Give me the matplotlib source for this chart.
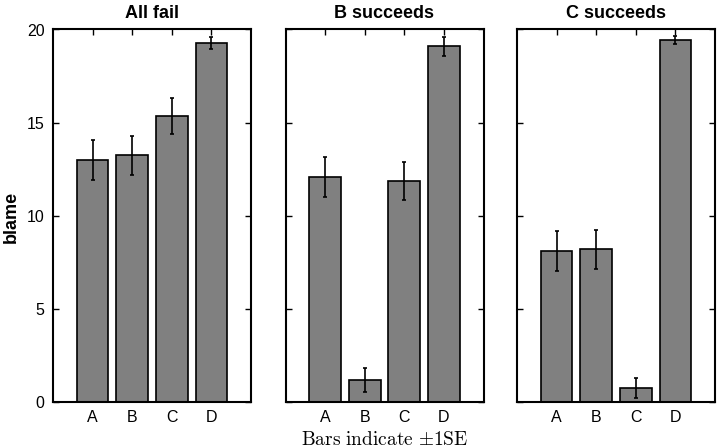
import matplotlib
matplotlib.use("Agg")
import matplotlib.pyplot as plt
import numpy as np

categories = ["A", "B", "C", "D"]
titles = ["All fail", "B succeeds", "C succeeds"]
means_all_fail = [13.0, 13.25, 15.35, 19.26]
se_all_fail = [1.08, 1.05, 0.95, 0.33]
means_b_succeeds = [12.1, 1.2, 11.88, 19.09]
se_b_succeeds = [1.07, 0.65, 1.03, 0.5]
means_c_succeeds = [8.13, 8.2, 0.77, 19.43]
se_c_succeeds = [1.07, 1.06, 0.53, 0.23]
yticks = [0, 5, 10, 15, 20]

plt.rcParams['font.family'] = ['Liberation Sans', 'DejaVu Sans']
plt.rcParams['mathtext.fontset'] = 'cm'

fig = plt.figure(figsize=(7.17, 4.48), dpi=100)
lefts = [53 / 717, 285.5 / 717, 517 / 717]
w = 198 / 717
b = 46 / 448
h = 372.5 / 448

means = [means_all_fail, means_b_succeeds, means_c_succeeds]
ses = [se_all_fail, se_b_succeeds, se_c_succeeds]
x = np.arange(1, len(categories) + 1)

for i in range(3):
    ax = fig.add_axes([lefts[i], b, w, h])
    ax.bar(x, means[i], width=0.8, color="#808080", edgecolor="black", linewidth=1.2, zorder=2)
    ax.errorbar(x, means[i], yerr=ses[i], fmt="none", ecolor="black", elinewidth=1.2,
                capsize=1.2, capthick=1.2, zorder=3)
    ax.set_xlim(0, 5)
    ax.set_ylim(0, 20)
    ax.set_xticks(x)
    ax.set_xticklabels(categories, fontsize=11.5)
    ax.set_yticks(yticks)
    if i == 0:
        ax.set_yticklabels([str(t) for t in yticks], fontsize=11.5)
    else:
        ax.set_yticklabels([])
    ax.tick_params(direction="in", top=True, right=True, length=4, width=1, pad=6, colors="black")
    for s in ax.spines.values():
        s.set_linewidth(1.5)
    ax.set_title(titles[i], fontsize=13, fontweight="bold", pad=8)
    if i == 1:
        ax.set_xlabel(r"$\mathrm{Bars\ indicate\ }{\pm}\mathrm{1SE}$", fontsize=14, labelpad=4)

fig.text(11 / 717, 1 - 217 / 448, "blame", rotation=90, ha="center", va="center",
         fontsize=13, fontweight="bold")

fig.savefig("out.png", dpi=100)
